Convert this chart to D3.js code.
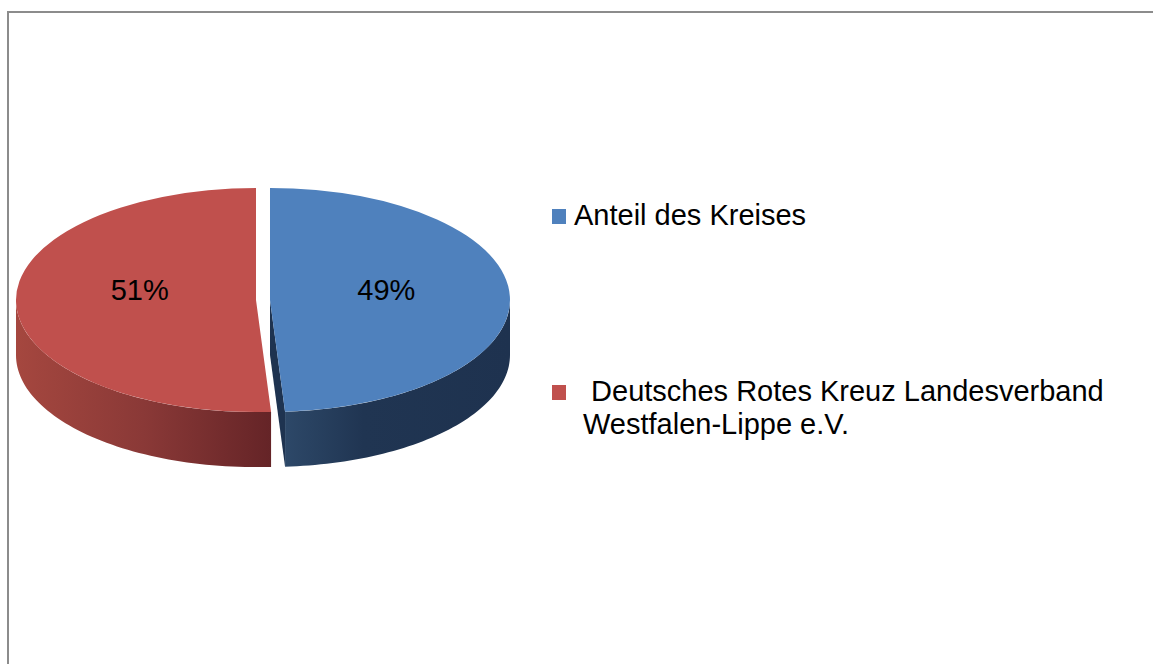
<!DOCTYPE html>
<html>
<head>
	<title>Anteil Pie</title>
	<script src="https://d3js.org/d3.v7.min.js" charset="utf-8"></script>
	<style>
		body { margin: 0; background: #fff; }
		text { font-family: "Liberation Sans", Arial, sans-serif; }
	</style>
</head>
<body>
	<svg width="1153" height="664"></svg>
	<script>
		// data
		const categories = ["Anteil des Kreises", " Deutsches Rotes Kreuz Landesverband Westfalen-Lippe e.V."];
		const values = [49, 51];
		const legendLines = [["Anteil des Kreises"], [" Deutsches Rotes Kreuz Landesverband", "Westfalen-Lippe e.V."]];
		const topColors = ["#4F81BD", "#C0504D"];
		const sideStops = [[[0, "#2D4868"], [0.35, "#203552"], [1, "#1E324F"]],
		                   [[0, "#A5473F"], [0.5, "#8A3937"], [1, "#652427"]]];
		const cutColors = ["#1E3350", "#652427"];

		const cx = 263, cy = 300, rx = 240, ry = 112, depth = 55, explode = 7;
		const k = ry / rx;

		var svg = d3.select('svg');

		// chart border
		svg.append('rect')
			.attr('x', 8).attr('y', 12)
			.attr('width', 1200).attr('height', 700)
			.attr('fill', 'none')
			.attr('stroke', '#8c8c8c')
			.attr('stroke-width', 2);

		const pie = d3.pie().sort(null).value(d => d);
		const slices = pie(values);

		const pt = (a, dy) => [rx * Math.sin(a), -ry * Math.cos(a) + (dy || 0)];

		const defs = svg.append('defs');
		slices.forEach(function(s, i) {
			const g = defs.append('linearGradient')
				.attr('id', 'side' + i)
				.attr('x1', 0).attr('x2', 1).attr('y1', 0).attr('y2', 0);
			sideStops[i].forEach(function(st) {
				g.append('stop').attr('offset', st[0]).attr('stop-color', st[1]);
			});
		});

		const layers = slices.map(function(s) {
			const mid = (s.startAngle + s.endAngle) / 2;
			return svg.append('g')
				.attr('transform', `translate(${cx + explode * Math.sin(mid)}, ${cy - explode * k * Math.cos(mid)})`);
		});

		const line = d3.line();

		// side walls (front half only) and visible cut faces
		slices.forEach(function(s, i) {
			const g = layers[i];
			const a0 = Math.max(s.startAngle, Math.PI / 2);
			const a1 = Math.min(s.endAngle, Math.PI * 1.5);
			if (a1 > a0) {
				const n = 60;
				const angs = d3.range(n + 1).map(j => a0 + (a1 - a0) * j / n);
				const pts = angs.map(a => pt(a)).concat(angs.slice().reverse().map(a => pt(a, depth)));
				g.append('path')
					.attr('d', line(pts) + 'Z')
					.attr('fill', `url(#side${i})`);
			}
			[[s.endAngle, Math.sin(s.endAngle) > 0.001], [s.startAngle, Math.sin(s.startAngle) < -0.001]]
				.forEach(function(f) {
					if (!f[1]) return;
					const p = pt(f[0]);
					g.append('path')
						.attr('d', line([[0, 0], p, [p[0], p[1] + depth], [0, depth]]) + 'Z')
						.attr('fill', cutColors[i]);
				});
		});

		// top faces
		const arc = d3.arc().innerRadius(0).outerRadius(rx);
		slices.forEach(function(s, i) {
			layers[i].append('path')
				.attr('d', arc(s))
				.attr('transform', `scale(1, ${k})`)
				.attr('fill', topColors[i]);
		});

		// percentage labels
		const total = d3.sum(values);
		slices.forEach(function(s, i) {
			const mid = (s.startAngle + s.endAngle) / 2;
			layers[i].append('text')
				.attr('x', 0.485 * rx * Math.sin(mid))
				.attr('y', 0)
				.attr('text-anchor', 'middle')
				.attr('font-size', 29)
				.attr('fill', '#000')
				.text(Math.round(values[i] / total * 100) + '%');
		});

		// legend
		const legendY = [216, 392];
		const legendX = [574, 583];
		const legend = svg.append('g');
		categories.forEach(function(c, i) {
			legend.append('rect')
				.attr('x', 552).attr('y', legendY[i] - 7)
				.attr('width', 14).attr('height', 15)
				.attr('fill', topColors[i]);
			const t = legend.append('text')
				.attr('y', legendY[i] + 9)
				.attr('font-size', 29)
				.attr('fill', '#000');
			legendLines[i].forEach(function(l, j) {
				t.append('tspan')
					.attr('x', legendX[i])
					.attr('dy', j === 0 ? 0 : 33)
					.attr('xml:space', 'preserve')
					.text(l);
			});
		});
	</script>
</body>
</html>
